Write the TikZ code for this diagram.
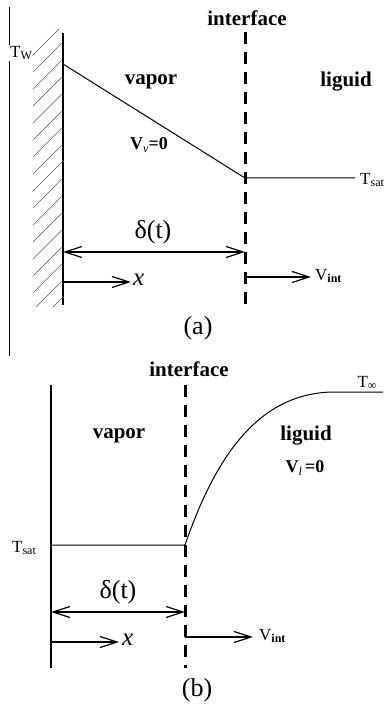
\documentclass[tikz,border=0pt]{standalone}
\usepackage{fontspec}
\setmainfont{Liberation Serif}
\usetikzlibrary{arrows.meta}
\newcommand\mysub[1]{\raisebox{-0.35ex}{\fontsize{12}{12}\selectfont #1}}
\tikzset{
  x=1pt,y=-1pt,
  bold/.style={font=\fontsize{21}{23}\selectfont\bfseries, inner sep=0pt},
  tlbl/.style={font=\fontsize{17}{19}\selectfont, inner sep=0pt},
  vlbl/.style={font=\fontsize{18}{20}\selectfont\bfseries, inner sep=0pt},
  big/.style={font=\fontsize{26}{28}\selectfont, inner sep=0pt},
  xlbl/.style={font=\fontsize{25}{27}\selectfont\itshape, inner sep=0pt, anchor=west},
  wall/.style={line width=2.6pt},
  thinl/.style={line width=1pt},
  iface/.style={line width=3pt, dash pattern=on 12pt off 8pt},
  arr/.style={line width=1.2pt, -{Straight Barb[length=17pt,width=11pt]}},
  darr/.style={line width=1.2pt, {Straight Barb[length=17pt,width=11pt]}-{Straight Barb[length=17pt,width=11pt]}},
  hatch/.style={line width=0.6pt, gray!70!black},
}
\begin{document}
\begin{tikzpicture}
\useasboundingbox (0,0) rectangle (386,708);
% ---------------- panel (a) ----------------
\coordinate (ta) at (9,7);
\coordinate (tb) at (9,356);
\draw[line width=1pt] (ta) -- (tb);
\begin{scope}
  \clip (28,30) rectangle (62,306);
  \foreach \y in {55,72,...,340} {
    \draw[hatch] (33,\y) -- (62,\y-29);
  }
\end{scope}
\coordinate (wa1) at (63,33);
\coordinate (wa2) at (63,305);
\draw[wall] (wa1) -- (wa2);
\coordinate (ia1) at (245,32);
\coordinate (ia2) at (245,306);
\draw[iface] (ia1) -- (ia2);
\node[bold] (ifa) at (247,18) {interface};
\node[tlbl, fill=white, inner sep=1pt] (TW) at (21,53) {T\mysub{W}};
\coordinate (tw) at (63,64);
\coordinate (ti) at (245,178);
\coordinate (ts) at (355,178);
\draw[thinl] (tw) -- (ti) -- (ts);
\node[tlbl, anchor=west] (Tsa) at (360,180) {T\mysub{sat}};
\node[bold] (vapa) at (151,82) {vapor};
\node[bold] (liqa) at (346,82) {liguid};
\node[vlbl] (vva) at (149,145) {V\mysub{\normalfont\textit{ν}}=0};
\node[big] (dla) at (153,232) {δ(t)};
\coordinate (da1) at (63,252);
\coordinate (da2) at (245,252);
\draw[darr] (da1) -- (da2);
\coordinate (xa1) at (63,282);
\coordinate (xa2) at (131,282);
\draw[arr] (xa1) -- (xa2);
\node[xlbl] (xla) at (133,280) {x};
\coordinate (va1) at (245,277);
\coordinate (va2) at (311,277);
\draw[arr] (va1) -- (va2);
\node[tlbl, anchor=west] (vinta) at (315,276) {V\mysub{\bfseries int}};
\node[big] (capa) at (198,328) {(a)};
% ---------------- panel (b) ----------------
\node[bold] (ifb) at (189,369) {interface};
\coordinate (wb1) at (51,385);
\coordinate (wb2) at (51,668);
\draw[wall] (wb1) -- (wb2);
\coordinate (ib1) at (185,385);
\coordinate (ib2) at (185,668);
\draw[iface] (ib1) -- (ib2);
\coordinate (sb1) at (51,545);
\coordinate (sb2) at (185,545);
\coordinate (cb1) at (335,392);
\coordinate (cb2) at (383,392);
\draw[thinl] (sb1) -- (sb2) .. controls (215,458) and (258,392) .. (cb1) -- (cb2);
\node[tlbl] (Tsb) at (24,548) {T\mysub{sat}};
\node[tlbl] (Tinf) at (367,383) {T\mysub{∞}};
\node[bold] (vapb) at (119,436) {vapor};
\node[bold] (liqb) at (306,436) {liguid};
\node[vlbl] (vlb) at (305,468) {V\mysub{\normalfont\textit{l}}\,=0};
\node[big] (dlb) at (118,592) {δ(t)};
\coordinate (db1) at (51,612);
\coordinate (db2) at (185,612);
\draw[darr] (db1) -- (db2);
\coordinate (xb1) at (51,642);
\coordinate (xb2) at (119,642);
\draw[arr] (xb1) -- (xb2);
\node[xlbl] (xlb) at (122,640) {x};
\coordinate (vb1) at (185,637);
\coordinate (vb2) at (253,637);
\draw[arr] (vb1) -- (vb2);
\node[tlbl, anchor=west] (vintb) at (259,636) {V\mysub{\bfseries int}};
\node[big] (capb) at (197,690) {(b)};
\end{tikzpicture}
\end{document}
